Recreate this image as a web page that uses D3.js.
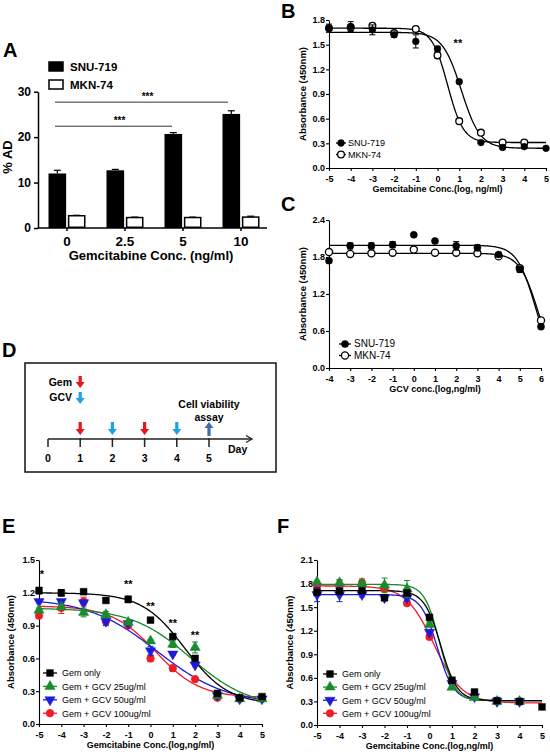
<!DOCTYPE html>
<html><head><meta charset="utf-8">
<script src="https://cdn.jsdelivr.net/npm/d3@7"></script>
<style>
body{margin:0;background:#fff}
svg{display:block}
text{font-family:"Liberation Sans",Arial,sans-serif}
</style>
</head><body>
<svg id="c" width="550" height="756"></svg>
<script>
// ================= DATA =================
// Panel A
const catsA = ["0", "2.5", "5", "10"];
const seriesA = ["SNU-719", "MKN-74"];
const snuA = [12.0, 12.7, 20.7, 25.1];
const snuAErr = [0.7, 0.2, 0.3, 0.7];
const mknA = [2.7, 2.3, 2.3, 2.4];
const mknAErr = [0.1, 0.1, 0.1, 0.2];
const ticksA = [0, 10, 20, 30];

// Panel B (log dose vs absorbance)
const doseB = [-5, -4, -3, -2, -1, 0, 1, 2, 3, 4, 5];
const snuB = [1.70, 1.72, 1.68, 1.62, 1.54, 1.45, 1.05, 0.31, 0.25, 0.26, 0.24];
const snuBErr = [0.05, 0.06, 0.06, 0.03, 0.08, 0.03, 0.02, 0.01, 0.01, 0.01, 0.01];
const mknB = [1.70, 1.71, 1.73, 1.64, 1.69, 1.37, 0.57, 0.43, 0.31, 0.31, null];
const mknBErr = [0.02, 0.03, 0.02, 0.02, 0.02, 0.04, 0.03, 0.01, 0.01, 0.01, 0];
// fit params: [top, bottom, logEC50, hill]
const fitSnuB = [1.65, 0.24, 1.1, 1.0];
const fitMknB = [1.70, 0.31, 0.47, 1.2];
const ticksBY = [0, 0.3, 0.6, 0.9, 1.2, 1.5, 1.8];

// Panel C
const doseC = [-4, -3, -2, -1, 0, 1, 2, 3, 4, 5, 6];
const snuC = [1.74, 1.98, 1.98, 2.00, 2.16, 2.06, 1.98, 1.95, 1.84, 1.60, 0.67];
const snuCErr = [0.03, 0.05, 0.05, 0.05, 0, 0, 0.07, 0.05, 0.03, 0.05, 0.02];
const mknC = [1.88, 1.85, 1.86, 1.87, 1.92, 1.87, 1.87, 1.86, 1.81, 1.62, 0.77];
const mknCErr = [0, 0, 0, 0, 0, 0.03, 0, 0, 0.03, 0.03, 0];
const fitSnuC = [1.99, 0, 5.73, 1.0];
const fitMknC = [1.86, 0, 5.85, 1.0];
const ticksCY = [0, 0.6, 1.2, 1.8, 2.4];

// Panel D (schedule)
const daysD = [0, 1, 2, 3, 4, 5];
const gemDays = [1, 3];
const gcvDays = [2, 4];
const assayDay = 5;

// Panel E
const doseE = [-5, -4, -3, -2, -1, 0, 1, 2, 3, 4, 5];
const gemE = [1.22, 1.20, 1.21, 1.13, 1.14, 0.95, 0.80, 0.60, 0.28, 0.24, 0.25];
const gemEErr = [0.03, 0.03, 0.01, 0.01, 0.03, 0.02, 0.01, 0.01, 0.01, 0.01, 0.01];
const g25E = [1.04, 1.07, 1.02, 1.00, 0.93, 0.76, 0.73, 0.70, 0.26, 0.23, 0.23];
const g25EErr = [0.02, 0.02, 0.04, 0.03, 0.01, 0.01, 0.03, 0.05, 0, 0, 0];
const g50E = [1.12, 1.12, 1.11, 0.94, 0.92, 0.67, 0.64, 0.54, 0.26, 0.23, 0.23];
const g50EErr = [0.01, 0.01, 0.01, 0.04, 0.01, 0.04, 0.01, 0.01, 0, 0, 0];
const g100E = [0.99, 1.06, 1.12, 0.94, 0.90, 0.60, 0.51, 0.41, 0.24, 0.23, 0.23];
const g100EErr = [0.02, 0.05, 0.04, 0.03, 0.01, 0.03, 0.03, 0.01, 0.01, 0.01, 0.01];
const fitGemE = [1.20, 0.18, 1.55, 0.45];
const fitG25E = [1.06, 0.15, 1.8, 0.33];
const fitG50E = [1.15, 0.18, 0.3, 0.28];
const fitG100E = [1.08, 0.24, 0.24, 0.44];
const ticksEY = [0, 0.3, 0.6, 0.9, 1.2, 1.5];
const starsE = [[-5, 1.38, "*"], [-1, 1.29, "**"], [0, 1.09, "**"], [1, 0.93, "**"], [2, 0.82, "**"]];

// Panel F
const doseF = [-5, -4, -3, -2, -1, 0, 1, 2, 3, 4, 5];
const gemF = [1.69, 1.70, 1.71, 1.62, 1.68, 1.37, 0.57, 0.42, 0.31, 0.30, 0.23];
const gemFErr = [0.02, 0.02, 0.02, 0.03, 0.02, 0.03, 0.01, 0.01, 0.01, 0.01, 0.01];
const g25F = [1.82, 1.81, 1.80, 1.78, 1.73, 1.28, 0.48, 0.35, 0.30, 0.30, null];
const g25FErr = [0.01, 0.04, 0.04, 0.09, 0.11, 0.03, 0.01, 0.01, 0, 0, 0];
const g50F = [1.66, 1.66, 1.66, 1.62, 1.62, 1.18, 0.53, 0.36, 0.30, 0.30, null];
const g50FErr = [0.09, 0.09, 0.03, 0.04, 0.04, 0.03, 0.01, 0.01, 0, 0, 0];
const g100F = [1.76, 1.76, 1.81, 1.73, 1.55, 1.12, 0.55, 0.36, 0.30, 0.30, null];
const g100FErr = [0.01, 0.08, 0.05, 0.02, 0.03, 0.02, 0.01, 0.01, 0, 0, 0];
const fitGemF = [1.71, 0.31, 0.5, 1.18];
const fitG25F = [1.79, 0.31, 0.45, 1.3];
const fitG50F = [1.66, 0.31, 0.35, 1.2];
const fitG100F = [1.77, 0.28, 0.2, 0.7];
const ticksFY = [0, 0.3, 0.6, 0.9, 1.2, 1.5, 1.8, 2.1];

const legendGroups = ["Gem only", "Gem + GCV 25ug/ml", "Gem + GCV 50ug/ml", "Gem + GCV 100ug/ml"];

// ================= DRAW =================
const svg = d3.select("#c");
const GREEN = "#1a8a2c", BLUE = "#1c1cd8", RED = "#ee1c24";

function label(t, x, y) {
  svg.append("text").attr("x", x).attr("y", y).attr("font-size", 20)
    .attr("font-weight", "bold").text(t);
}
label("A", 3, 57); label("B", 281, 18); label("C", 281, 211);
label("D", 2, 357); label("E", 2, 533); label("F", 277, 533);

// ---------- Panel A ----------
(function () {
  const x = d3.scaleBand().domain(catsA).range([38, 270]);
  const x1 = d3.scaleBand().domain(seriesA).range([-18.5, 18.5]).paddingInner(0.09);
  const y = d3.scaleLinear().domain([0, 30]).range([228, 91.7]);
  const g = svg.append("g");
  const vals = [snuA, mknA], errs = [snuAErr, mknAErr];
  seriesA.forEach((s, si) => {
    catsA.forEach((c, i) => {
      const cx = x(c) + x.bandwidth() / 2 + x1(s);
      const v = vals[si][i], e = errs[si][i];
      const ex = cx + x1.bandwidth() / 2;
      g.append("line").attr("x1", ex).attr("x2", ex).attr("y1", y(v)).attr("y2", y(v + e))
        .attr("stroke", "#000").attr("stroke-width", 1.2);
      g.append("line").attr("x1", ex - 3.5).attr("x2", ex + 3.5).attr("y1", y(v + e)).attr("y2", y(v + e))
        .attr("stroke", "#000").attr("stroke-width", 1.2);
      g.append("rect").attr("x", cx + (si ? 0.75 : 0)).attr("y", y(v))
        .attr("width", x1.bandwidth() - (si ? 1.5 : 0)).attr("height", y(0) - y(v) - (si ? 0.75 : 0))
        .attr("fill", si ? "#fff" : "#000").attr("stroke", "#000").attr("stroke-width", si ? 1.5 : 0);
    });
  });
  const ya = g.append("g").attr("transform", "translate(38,0)")
    .call(d3.axisLeft(y).tickValues(ticksA).tickSize(4).tickSizeOuter(0));
  ya.selectAll("text").attr("font-size", 12).attr("font-weight", "bold").attr("font-family", "Liberation Sans, Arial");
  const xa = g.append("g").attr("transform", "translate(0,228)")
    .call(d3.axisBottom(x).tickSize(3).tickSizeOuter(0));
  xa.select(".domain").attr("d", "M38,0H267");
  xa.selectAll("text").attr("font-size", 13.5).attr("font-weight", "bold").attr("dy", "0.9em").attr("font-family", "Liberation Sans, Arial");
  g.selectAll(".domain, .tick line").attr("stroke-width", 1.5);
  // significance
  const c0 = x("0") + x.bandwidth() / 2;
  const sig = [[x("10") + x.bandwidth() / 2 - 13, 27.7], [x("5") + x.bandwidth() / 2 - 11, 22.4]];
  sig.forEach(([x2, v]) => {
    g.append("line").attr("x1", c0 - 12).attr("x2", x2).attr("y1", y(v)).attr("y2", y(v))
      .attr("stroke", "#333").attr("stroke-width", 1);
    g.append("text").attr("x", (c0 - 12 + x2) / 2 + 6).attr("y", y(v) - 2).attr("text-anchor", "middle")
      .attr("font-size", 10).attr("font-weight", "bold").text("***");
  });
  // titles
  g.append("text").attr("transform", "translate(12,157) rotate(-90)").attr("text-anchor", "middle")
    .attr("font-size", 13).attr("font-weight", "bold").text("% AD");
  g.append("text").attr("x", 151).attr("y", 260).attr("text-anchor", "middle")
    .attr("font-size", 13).attr("font-weight", "bold").text("Gemcitabine Conc. (ng/ml)");
  // legend
  seriesA.forEach((s, i) => {
    g.append("rect").attr("x", 49).attr("y", 62 + i * 18).attr("width", 14).attr("height", 9)
      .attr("fill", i ? "#fff" : "#000").attr("stroke", "#000").attr("stroke-width", 1.5);
    g.append("text").attr("x", 70).attr("y", 71 + i * 18).attr("font-size", 11.5)
      .attr("font-weight", "bold").text(s);
  });
})();

// ---------- generic dose-response panel ----------
function fourPL(p, xv) { return p[1] + (p[0] - p[1]) / (1 + Math.pow(10, (xv - p[2]) * p[3])); }

function markerPath(shape, size) {
  if (shape === "circle") return d3.symbol(d3.symbolCircle, size)();
  if (shape === "square") return d3.symbol(d3.symbolSquare, size)();
  return d3.symbol(d3.symbolTriangle, size)();
}
function drawMarker(g, shape, size, cx, cy, fill, stroke) {
  g.append("path").attr("d", markerPath(shape, size))
    .attr("transform", `translate(${cx},${cy})` + (shape === "tridown" ? " rotate(180)" : ""))
    .attr("fill", fill).attr("stroke", stroke).attr("stroke-width", fill === "#fff" ? 1.3 : 0.5);
}

function drawPanel(o) {
  const x = d3.scaleLinear().domain(o.xDomain).range(o.xRange);
  const y = d3.scaleLinear().domain(o.yDomain).range(o.yRange);
  const g = svg.append("g");
  // axes
  const xa = g.append("g").attr("transform", `translate(0,${o.yRange[0]})`)
    .call(d3.axisBottom(x).tickValues(o.xTicks).tickSize(3).tickSizeOuter(0).tickFormat(d => String(d)));
  const ya = g.append("g").attr("transform", `translate(${o.xRange[0]},0)`)
    .call(d3.axisLeft(y).tickValues(o.yTicks).tickSize(3).tickSizeOuter(0).tickFormat(d3.format(".1f")));
  g.selectAll("text").attr("font-size", 9).attr("font-weight", "bold").attr("font-family", "Liberation Sans, Arial");
  xa.selectAll("text").attr("dy", "0.85em");
  ya.selectAll("text").attr("x", -4);
  g.selectAll(".domain, .tick line").attr("stroke-width", 1.1);
  // titles
  g.append("text").attr("x", (o.xRange[0] + o.xRange[1]) / 2).attr("y", o.yRange[0] + 24)
    .attr("text-anchor", "middle").attr("font-size", 9).attr("font-weight", "bold").text(o.xTitle);
  g.append("text").attr("transform", `translate(${o.yTitleX},${(o.yRange[0] + o.yRange[1]) / 2}) rotate(-90)`)
    .attr("text-anchor", "middle").attr("font-size", 9.5).attr("font-weight", "bold").text("Absorbance (450nm)");
  // curves
  const xs = d3.range(o.xDomain[0], o.xDomain[1] + 0.001, 0.05);
  const line = d3.line().x(d => x(d[0])).y(d => y(d[1])).curve(d3.curveLinear);
  o.series.forEach(s => {
    g.append("path").attr("d", line(xs.map(v => [v, fourPL(s.fit, v)])))
      .attr("fill", "none").attr("stroke", s.color).attr("stroke-width", 1.3);
  });
  // error bars + markers (draw in given order)
  o.series.forEach(s => {
    s.ys.forEach((v, i) => {
      if (v == null) return;
      const e = s.errs[i], cx = x(s.xs[i]);
      if (e > 0) {
        g.append("line").attr("x1", cx).attr("x2", cx).attr("y1", y(v - e)).attr("y2", y(v + e))
          .attr("stroke", s.color).attr("stroke-width", 1);
        [v - e, v + e].forEach(t => g.append("line").attr("x1", cx - 3).attr("x2", cx + 3)
          .attr("y1", y(t)).attr("y2", y(t)).attr("stroke", s.color).attr("stroke-width", 1));
      }
      drawMarker(g, s.shape, o.size, cx, y(v), s.fill, s.color);
    });
  });
  // legend
  o.legend.items.forEach((s, i) => {
    const ly = o.legend.y + i * o.legend.dy, lx = o.legend.x;
    g.append("line").attr("x1", lx - o.legend.lw).attr("x2", lx + o.legend.lw).attr("y1", ly).attr("y2", ly)
      .attr("stroke", s.color).attr("stroke-width", 1.3);
    drawMarker(g, s.shape, o.size, lx, ly, s.fill, s.color);
    g.append("text").attr("x", lx + o.legend.tx).attr("y", ly + 3.3).attr("font-size", o.legend.fs)
      .text(s.name);
  });
  // stars
  (o.stars || []).forEach(([sx, sy, t]) => {
    g.append("text").attr("x", x(sx) + (sx === o.xDomain[0] ? 3 : 0)).attr("y", y(sy) + 5)
      .attr("text-anchor", "middle").attr("font-size", 11).attr("font-weight", "bold").text(t);
  });
  return { x, y, g };
}

// ---------- Panel B ----------
const serB = [
  { name: "SNU-719", xs: doseB, ys: snuB, errs: snuBErr, fit: fitSnuB, color: "#000", fill: "#000", shape: "circle" },
  { name: "MKN-74", xs: doseB, ys: mknB, errs: mknBErr, fit: fitMknB, color: "#000", fill: "#fff", shape: "circle" }
];
drawPanel({
  xDomain: [-5, 5], xRange: [329, 546], yDomain: [0, 1.8], yRange: [168, 20],
  xTicks: doseB, yTicks: ticksBY, xTitle: "Gemcitabine Conc.(log, ng/ml)", yTitleX: 306,
  series: [serB[1], serB[0]], size: 36,
  legend: { x: 341, y: 143, dy: 11.5, lw: 5, tx: 7, fs: 9, items: serB },
  stars: [[0.94, 1.53, "**"]]
});

// ---------- Panel C ----------
const serC = [
  { name: "SNU-719", xs: doseC, ys: snuC, errs: snuCErr, fit: fitSnuC, color: "#000", fill: "#000", shape: "circle" },
  { name: "MKN-74", xs: doseC, ys: mknC, errs: mknCErr, fit: fitMknC, color: "#000", fill: "#fff", shape: "circle" }
];
drawPanel({
  xDomain: [-4, 6], xRange: [329, 541], yDomain: [0, 2.4], yRange: [368, 220],
  xTicks: doseC, yTicks: ticksCY, xTitle: "GCV conc.(log,ng/ml)", yTitleX: 306,
  series: [serC[1], serC[0]], size: 40,
  legend: { x: 345, y: 344, dy: 11.5, lw: 6, tx: 9, fs: 10, items: serC }
});

// ---------- Panel D ----------
(function () {
  const g = svg.append("g");
  g.append("rect").attr("x", 25).attr("y", 363).attr("width", 251).attr("height", 109)
    .attr("fill", "none").attr("stroke", "#111").attr("stroke-width", 1.5);
  const d = d3.scaleLinear().domain([0, 5]).range([48, 209]);
  const ay = 439;
  g.append("line").attr("x1", d(0)).attr("x2", 252).attr("y1", ay).attr("y2", ay).attr("stroke", "#222").attr("stroke-width", 1.3);
  g.append("path").attr("d", `M246,${ay - 3.5}L252,${ay}L246,${ay + 3.5}`).attr("fill", "none").attr("stroke", "#222").attr("stroke-width", 1.3);
  daysD.forEach(t => {
    g.append("line").attr("x1", d(t)).attr("x2", d(t)).attr("y1", ay - (t === 0 ? 0 : 1)).attr("y2", ay + 8)
      .attr("stroke", "#222").attr("stroke-width", 1.5);
    g.append("text").attr("x", d(t)).attr("y", 462).attr("text-anchor", "middle")
      .attr("font-size", 10.5).attr("font-weight", "bold").text(t);
  });
  g.append("text").attr("x", 228).attr("y", 453).attr("font-size", 10.5).attr("font-weight", "bold").text("Day");
  function arrow(cx, y0, y1, col) { // y0 tail, y1 tip
    const dir = y1 > y0 ? 1 : -1, hl = 6 * dir;
    const p = `M${cx - 1.6},${y0}L${cx + 1.6},${y0}L${cx + 1.6},${y1 - hl}L${cx + 4.5},${y1 - hl}L${cx},${y1}L${cx - 4.5},${y1 - hl}L${cx - 1.6},${y1 - hl}Z`;
    g.append("path").attr("d", p).attr("fill", col);
  }
  const RED_A = "#e8141e", BLUE_A = "#1ea2e4", UP_A = "#3d6ea9";
  gemDays.forEach(t => arrow(d(t), 422, 435, RED_A));
  gcvDays.forEach(t => arrow(d(t), 422, 435, BLUE_A));
  arrow(d(assayDay), 436, 422, UP_A);
  arrow(d(1), 376, 388, RED_A);
  arrow(d(1), 392, 404, BLUE_A);
  g.append("text").attr("x", 72).attr("y", 386).attr("text-anchor", "end").attr("font-size", 10.5).attr("font-weight", "bold").text("Gem");
  g.append("text").attr("x", 72).attr("y", 401).attr("text-anchor", "end").attr("font-size", 10.5).attr("font-weight", "bold").text("GCV");
  g.append("text").attr("x", d(assayDay)).attr("y", 408).attr("text-anchor", "middle").attr("font-size", 10.5).attr("font-weight", "bold").text("Cell viability");
  g.append("text").attr("x", d(assayDay)).attr("y", 421).attr("text-anchor", "middle").attr("font-size", 10.5).attr("font-weight", "bold").text("assay");
})();

// ---------- Panel E ----------
const serE = [
  { name: legendGroups[0], xs: doseE, ys: gemE, errs: gemEErr, fit: fitGemE, color: "#000", fill: "#000", shape: "square" },
  { name: legendGroups[1], xs: doseE, ys: g25E, errs: g25EErr, fit: fitG25E, color: GREEN, fill: GREEN, shape: "triangle" },
  { name: legendGroups[2], xs: doseE, ys: g50E, errs: g50EErr, fit: fitG50E, color: BLUE, fill: BLUE, shape: "tridown" },
  { name: legendGroups[3], xs: doseE, ys: g100E, errs: g100EErr, fit: fitG100E, color: RED, fill: RED, shape: "circle" }
];
drawPanel({
  xDomain: [-5, 5], xRange: [39, 262], yDomain: [0, 1.5], yRange: [724, 560],
  xTicks: doseE, yTicks: ticksEY, xTitle: "Gemcitabine Conc.(log,ng/ml)", yTitleX: 14,
  series: [serE[3], serE[2], serE[1], serE[0]], size: 46,
  legend: { x: 50, y: 673, dy: 13.4, lw: 7, tx: 12, fs: 9, items: serE },
  stars: starsE
});

// ---------- Panel F ----------
const serF = [
  { name: legendGroups[0], xs: doseF, ys: gemF, errs: gemFErr, fit: fitGemF, color: "#000", fill: "#000", shape: "square" },
  { name: legendGroups[1], xs: doseF, ys: g25F, errs: g25FErr, fit: fitG25F, color: GREEN, fill: GREEN, shape: "triangle" },
  { name: legendGroups[2], xs: doseF, ys: g50F, errs: g50FErr, fit: fitG50F, color: BLUE, fill: BLUE, shape: "tridown" },
  { name: legendGroups[3], xs: doseF, ys: g100F, errs: g100FErr, fit: fitG100F, color: RED, fill: RED, shape: "circle" }
];
drawPanel({
  xDomain: [-5, 5], xRange: [317, 542], yDomain: [0, 2.1], yRange: [725, 560],
  xTicks: doseF, yTicks: ticksFY, xTitle: "Gemcitabine Conc.(log,ng/ml)", yTitleX: 293,
  series: [serF[3], serF[2], serF[1], serF[0]], size: 46,
  legend: { x: 330, y: 674, dy: 13.1, lw: 7, tx: 12, fs: 9, items: serF }
});
</script>
</body></html>
